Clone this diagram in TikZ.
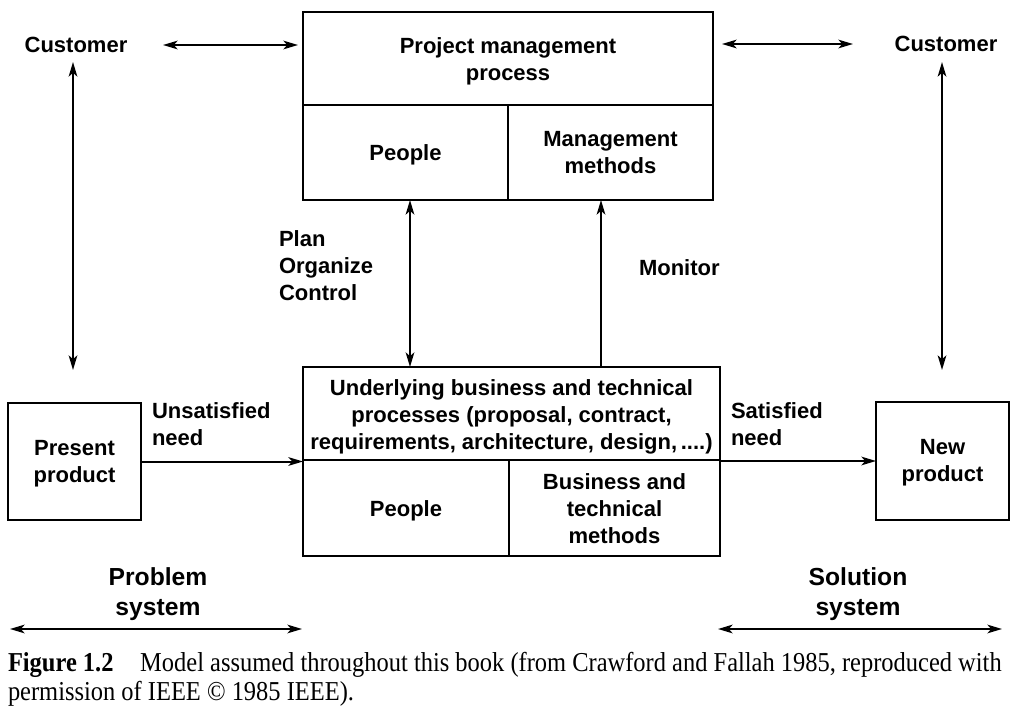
\documentclass[tikz,border=0pt]{standalone}
\usepackage{fontspec}
\setmainfont{Liberation Sans}
\newfontfamily\capfont[FakeStretch=0.895]{Liberation Serif}
\usetikzlibrary{arrows.meta,calc}
\begin{document}
\begin{tikzpicture}[x=0.75pt,y=-0.75pt,
  every node/.style={inner sep=0pt, outer sep=0pt},
  lbl/.style={font=\fontsize{16.5pt}{20.25pt}\selectfont\bfseries, align=center},
  lbll/.style={font=\fontsize{16.5pt}{20.25pt}\selectfont\bfseries, align=left},
  big/.style={font=\fontsize{18.5pt}{22.5pt}\selectfont\bfseries, align=center},
  cell/.style={draw, line width=1.4pt},
  tip/.tip={Stealth[length=11pt,width=6.5pt,inset=3pt]},
  arr/.style={line width=1.5pt, -tip},
  dbl/.style={line width=1.5pt, tip-tip},
  captext/.style={font=\capfont\fontsize{20.5pt}{24pt}\selectfont}]
\useasboundingbox (0,0) rectangle (1031,717);
\fill[white] (0,0) rectangle (1031,717);

% upper block
\node[cell, minimum width=307.5pt, minimum height=69.75pt] (pmp) at (508,58.5) {};
\node[cell, minimum width=153.75pt, minimum height=71.25pt] (ppl1) at (405.5,152.5) {};
\node[cell, minimum width=153.75pt, minimum height=71.25pt] (mm1) at (610.5,152.5) {};
\node[lbl] (pmpt) at ($(pmp)+(0,3)$) {Project management\\process};
\node[lbl] (ppl1t) at ($(ppl1)+(0,2)$) {People};
\node[lbl] (mm1t) at ($(mm1)+(0,0.5)$) {Management\\methods};

% lower block
\node[cell, minimum width=312.75pt, minimum height=69.75pt] (ubt) at (511.5,413.5) {};
\node[cell, minimum width=154.5pt, minimum height=72pt] (ppl2) at (406,508) {};
\node[cell, minimum width=158.25pt, minimum height=72pt] (btm) at (614.5,508) {};
\node[lbl] (ubtt) at ($(ubt)+(0,3)$) {Underlying business and technical\\processes (proposal, contract,\\requirements, architecture, design,\,....)};
\node[lbl] (ppl2t) at ($(ppl2)+(0,3)$) {People};
\node[lbl] (btmt) at ($(btm)+(0,1)$) {Business and\\technical\\methods};

% side boxes
\node[cell, minimum width=99.75pt, minimum height=87.75pt] (pp) at (74.5,461.5) {};
\node[cell, minimum width=99.75pt, minimum height=88.5pt] (np) at (942.5,461) {};
\node[lbl] (ppt) at ($(pp)+(0,2)$) {Present\\product};
\node[lbl] (npt) at ($(np)+(0,2)$) {New\\product};

% labels
\node[lbl] (cl) at (76,45) {Customer};
\node[lbl] (cr) at (946,44) {Customer};
\node[lbll, anchor=north west] (poc) at (279,231) {Plan\\Organize\\Control};
\node[lbll, anchor=west] (mon) at (639,268) {Monitor};
\node[lbll, anchor=north west] (un) at (152,403) {Unsatisfied\\need};
\node[lbll, anchor=north west] (sn) at (731,403) {Satisfied\\need};
\node[big] (prs) at (158,594) {Problem\\system};
\node[big] (sos) at (858,594) {Solution\\system};

% free ends
\coordinate (c1a) at (163,45);
\coordinate (c1b) at (298,45);
\coordinate (c2a) at (722,44);
\coordinate (c2b) at (853,44);
\coordinate (v1a) at (73,62);
\coordinate (v1b) at (73,370);
\coordinate (v2a) at (942,62);
\coordinate (v2b) at (942,370);
\coordinate (pl) at (410,0);
\coordinate (mo) at (601,0);
\coordinate (p1) at (10,629);
\coordinate (p2) at (302,629);
\coordinate (s1) at (718,629);
\coordinate (s2) at (1002,629);

% connectors
\draw[dbl] (c1a) -- (c1b);
\draw[dbl] (c2a) -- (c2b);
\draw[dbl] (v1a) -- (v1b);
\draw[dbl] (v2a) -- (v2b);
\draw[dbl] (ppl1.south -| pl) -- (ubt.north -| pl);
\draw[arr] (ubt.north -| mo) -- (mm1.south -| mo);
\draw[arr] (pp.east) -- (pp.east -| ubt.west);
\draw[arr] (np.west -| ubt.east) -- (np.west);
\draw[dbl] (p1) -- (p2);
\draw[dbl] (s1) -- (s2);

% caption
\node[captext, anchor=base west] (cap1) at (8,671)
  {\textbf{Figure 1.2}\hspace{20pt}Model assumed throughout this book (from Crawford and Fallah 1985, reproduced with};
\node[captext, anchor=base west] (cap2) at (8,700)
  {permission of IEEE \textcopyright{} 1985 IEEE).};
\end{tikzpicture}
\end{document}
